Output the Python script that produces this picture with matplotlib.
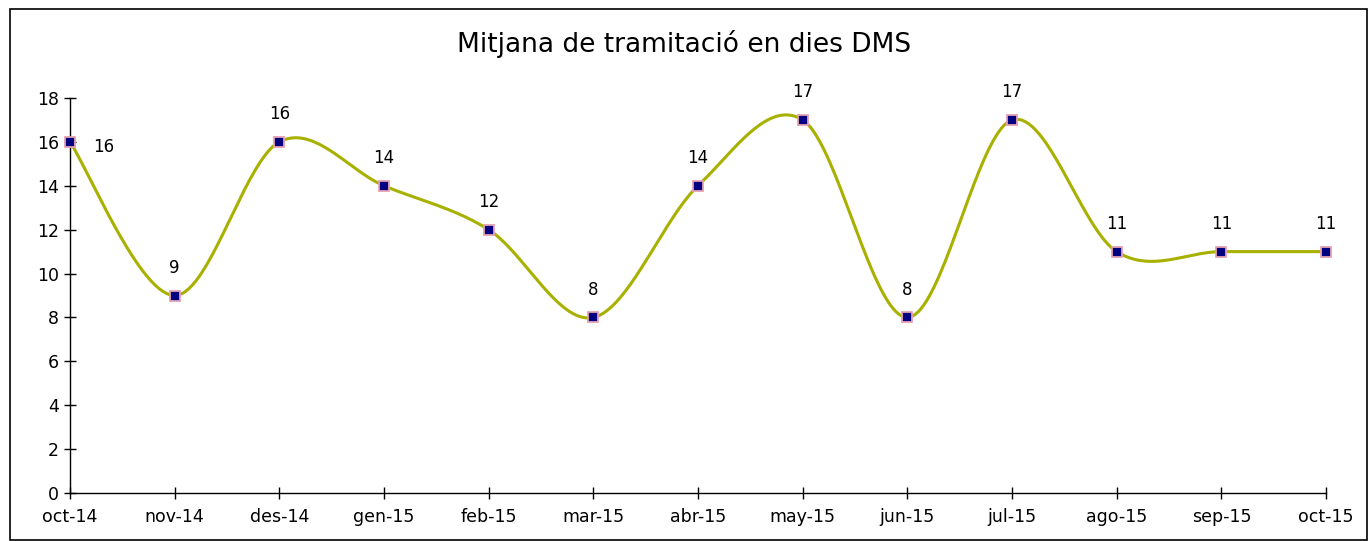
import numpy as np
import matplotlib
matplotlib.use("Agg")
import matplotlib.pyplot as plt
from matplotlib.patches import Rectangle

months = ["oct-14", "nov-14", "des-14", "gen-15", "feb-15", "mar-15", "abr-15",
          "may-15", "jun-15", "jul-15", "ago-15", "sep-15", "oct-15"]
values = [16, 9, 16, 14, 12, 8, 14, 17, 8, 17, 11, 11, 11]
yticks = [0, 2, 4, 6, 8, 10, 12, 14, 16, 18]
title = "Mitjana de tramitació en dies DMS"

plt.rcParams['font.family'] = ['DejaVu Sans']

fig = plt.figure(figsize=(13.69, 5.41), dpi=100)
ax = fig.add_axes([70/1369, 1-493/541, (1326-70)/1369, (493-98)/541])

x = np.arange(len(values), dtype=float)
y = np.array(values, dtype=float)

# Excel-like smoothed line (cubic Bezier with 1/6 tangent control points)
def smooth(xs, ys, n=40):
    px, py = [], []
    N = len(xs)
    for i in range(N - 1):
        p0 = np.array([xs[max(i-1, 0)], ys[max(i-1, 0)]])
        p1 = np.array([xs[i], ys[i]])
        p2 = np.array([xs[i+1], ys[i+1]])
        p3 = np.array([xs[min(i+2, N-1)], ys[min(i+2, N-1)]])
        c1 = p1 + (p2 - p0) / 6.0
        c2 = p2 - (p3 - p1) / 6.0
        t = np.linspace(0, 1, n)[:, None]
        pts = ((1-t)**3)*p1 + 3*((1-t)**2)*t*c1 + 3*(1-t)*t**2*c2 + t**3*p2
        px.extend(pts[:, 0]); py.extend(pts[:, 1])
    return np.array(px), np.array(py)

sx, sy = smooth(x, y)
ax.plot(sx, sy, color='#a8b000', lw=2.2, zorder=2, solid_capstyle='round')
ax.plot(x, y, ls='none', marker='s', ms=7, mfc='#000080', mec='#e6a0b4', mew=1.3, zorder=3)

for i, v in enumerate(values):
    if i == 0:
        ax.annotate(str(v), (x[i], y[i]), xytext=(24, -4), textcoords='offset points',
                    ha='center', va='center', fontsize=12)
    else:
        ax.annotate(str(v), (x[i], y[i]), xytext=(0, 20), textcoords='offset points',
                    ha='center', va='center', fontsize=12)

ax.set_xlim(0, len(values) - 1)
ax.set_ylim(0, 18)
ax.set_yticks(yticks)
ax.set_xticks(x)
ax.set_xticklabels(months)
ax.tick_params(axis='both', direction='inout', length=8, width=1, colors='#000000', labelsize=12.5)
ax.tick_params(axis='x', pad=7)
ax.tick_params(axis='y', pad=4)
for s in ['top', 'right']:
    ax.spines[s].set_visible(False)
for s in ['left', 'bottom']:
    ax.spines[s].set_linewidth(1)
    ax.spines[s].set_color('#000000')
for art in ax.lines:
    art.set_clip_on(False)

fig.text(0.5, 1-44/541, title, ha='center', va='center', fontsize=19)

fig.patches.append(Rectangle((10/1369, 1/541), (1367-10)/1369, (531)/541,
                             transform=fig.transFigure, fill=False, ec='black', lw=1.2))

fig.savefig("out.png", dpi=100)
